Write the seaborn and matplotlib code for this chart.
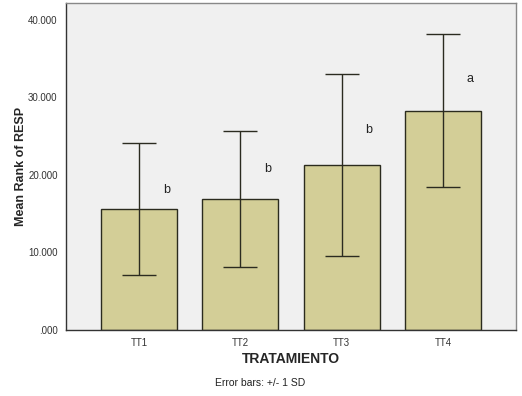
import pandas as pd
import matplotlib
matplotlib.use('Agg')
import matplotlib.pyplot as plt
import seaborn as sns

groups = ['TT1', 'TT2', 'TT3', 'TT4']
mean_rank = [15.6, 16.9, 21.3, 28.3]
sd = [8.55, 8.8, 11.75, 9.9]
letters = ['b', 'b', 'b', 'a']
letter_y = [18.0, 20.8, 25.8, 32.4]

df = pd.DataFrame({'TRATAMIENTO': groups, 'mean': mean_rank, 'sd': sd})

sns.set_style('white')
plt.rcParams['font.family'] = ['Liberation Sans', 'DejaVu Sans']

fig = plt.figure(figsize=(5.22, 3.96), dpi=100)
ax = fig.add_axes([0.1264, 0.1667, 0.862, 0.826])
ax.set_facecolor('#f0f0f0')

sns.barplot(data=df, x='TRATAMIENTO', y='mean', color='#d3ce97', width=0.75,
            edgecolor='#2b2b1e', linewidth=1.0, saturation=1, errorbar=None, ax=ax)
ax.errorbar(range(len(groups)), df['mean'], yerr=df['sd'], fmt='none',
            ecolor='#2b2b20', elinewidth=1.0, capsize=12, capthick=1.0)

for i, (lab, y) in enumerate(zip(letters, letter_y)):
    ax.text(i + 0.27, y, lab, fontsize=9, ha='center', va='center', color='#222222')

ax.set_xlim(-0.72, 3.72)
ax.set_ylim(0, 42.2)
ax.set_yticks([0, 10, 20, 30, 40])
ax.set_yticklabels(['.000', '10.000', '20.000', '30.000', '40.000'], fontsize=7)
ax.set_xticks(range(len(groups)))
ax.set_xticklabels(groups, fontsize=7)
ax.tick_params(axis='both', direction='out', length=4, width=1, color='#333333',
               labelcolor='#333333', pad=2)

for side in ['left', 'bottom']:
    ax.spines[side].set_color('#333333')
    ax.spines[side].set_linewidth(1.0)
for side in ['top', 'right']:
    ax.spines[side].set_color('#888888')
    ax.spines[side].set_linewidth(1.0)

ax.set_xlabel('TRATAMIENTO', fontsize=10, fontweight='bold', labelpad=3)
ax.set_ylabel('Mean Rank of RESP', fontsize=9, fontweight='bold', labelpad=1)
fig.text(0.498, 0.033, 'Error bars: +/- 1 SD', fontsize=7.5, ha='center', va='center',
         color='#222222')

fig.savefig('out.png', dpi=100)
